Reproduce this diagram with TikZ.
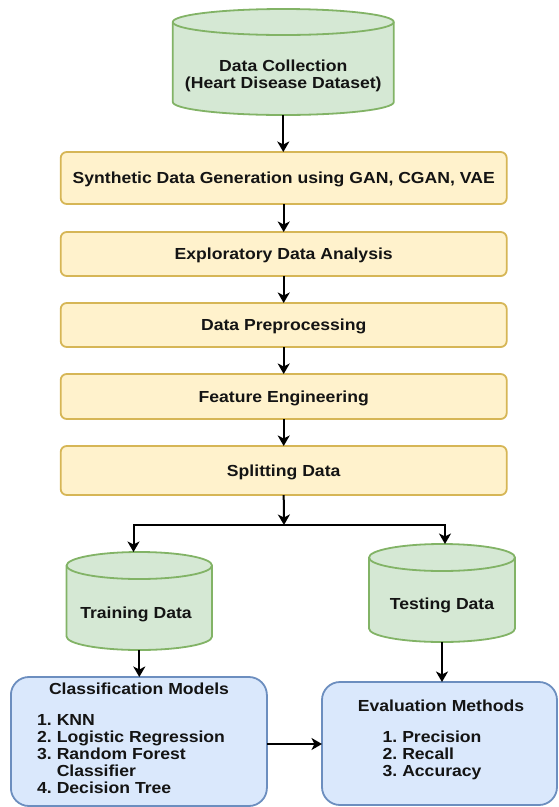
\documentclass[tikz,border=0pt]{standalone}
\usepackage{fontspec}
\newfontfamily\labfont{Liberation Sans}[FakeStretch=1.1]
\usetikzlibrary{arrows.meta,calc,backgrounds}
\definecolor{gfill}{HTML}{D5E8D4}
\definecolor{gline}{HTML}{82B366}
\definecolor{yfill}{HTML}{FFF2CC}
\definecolor{yline}{HTML}{D6B656}
\definecolor{bfill}{HTML}{DAE8FC}
\definecolor{bline}{HTML}{6C8EBF}
\definecolor{txt}{HTML}{141414}
\newcommand\labtext{\labfont\bfseries\fontsize{16}{17}\selectfont}
\newcommand\drawcyl[2]{%
 \begin{scope}[on background layer]
 \path[fill=gfill, draw=gline, line width=1.8pt] let \p1=(#1.north west), \p2=(#1.south east), \n1={(\x2-\x1)/2} in
   (\x1,\y1-#2) -- (\x1,\y2+#2) arc[start angle=180, end angle=360, x radius=\n1, y radius=#2]
   -- (\x2,\y1-#2) arc[start angle=0, end angle=180, x radius=\n1, y radius=#2] -- cycle;
 \draw[draw=gline, line width=1.8pt] let \p1=(#1.north west), \p2=(#1.south east), \n1={(\x2-\x1)/2} in
   (\x1,\y1-#2) arc[start angle=180, end angle=360, x radius=\n1, y radius=#2];
 \end{scope}}
\tikzset{
 x=1pt, y=-1pt,
 every node/.style={font=\labtext, text=txt},
 cylnode/.style={inner sep=0pt, outer sep=0pt, draw=none},
 stepbox/.style={draw=yline, fill=yfill, line width=1.8pt, rounded corners=6pt,
   minimum width=446pt, inner sep=0pt, outer sep=0pt, text height=11.5pt, text depth=0pt},
 bluebox/.style={draw=bline, fill=bfill, line width=1.8pt, rounded corners=18pt,
   inner sep=0pt, outer sep=0pt},
 arr/.style={line width=2pt, draw=black, -{Stealth[length=10.5pt, width=12pt, inset=3pt]}},
}
\begin{document}
\begin{tikzpicture}
\useasboundingbox (0,0) rectangle (558,807);

% top cylinder
\node[cylnode, minimum width=221pt, minimum height=106pt] (dc) at (283.3,62) {};
\drawcyl{dc}{13pt}
\node[anchor=base] (dct) at (283.3,71.5) {\begin{tabular}[t]{@{}c@{}}Data Collection\\(Heart Disease Dataset)\end{tabular}};

% process boxes
\node[stepbox, minimum height=52pt] (syn) at (283.7,178) {Synthetic Data Generation using GAN, CGAN, VAE};
\node[stepbox, minimum height=44pt] (eda) at (283.7,254) {Exploratory Data Analysis};
\node[stepbox, minimum height=44pt] (pre) at (283.7,325) {Data Preprocessing};
\node[stepbox, minimum height=45pt] (fe) at (283.7,396.5) {Feature Engineering};
\node[stepbox, minimum height=49pt] (spl) at (283.7,470.5) {Splitting Data};

% training / testing cylinders
\node[cylnode, minimum width=145.5pt, minimum height=98pt] (tr) at (139.3,601) {};
\drawcyl{tr}{13.5pt}
\node (trt) at (136,613) [text height=11.5pt, text depth=0pt, inner sep=0pt] {Training Data};
\node[cylnode, minimum width=146pt, minimum height=98pt] (te) at (442,593) {};
\drawcyl{te}{13.5pt}
\node (tet) at (442,604) [text height=11.5pt, text depth=0pt, inner sep=0pt] {Testing Data};

% bottom boxes
\node[bluebox, minimum width=256pt, minimum height=129pt] (cls) at (138.9,741.5) {};
\node[anchor=base] (clst) at (139,694) {Classification Models};
\node[anchor=base west, inner sep=0pt] (clsl) at (37,725) {\begin{tabular}[t]{@{}l@{\ }l@{}}1.&KNN\\2.&Logistic Regression\\3.&Random Forest\\&Classifier\\4.&Decision Tree\end{tabular}};

\node[bluebox, minimum width=235pt, minimum height=123pt] (ev) at (439.5,743.5) {};
\node[anchor=base] (evt) at (441,711) {Evaluation Methods};
\node[anchor=base west, inner sep=0pt] (evl) at (382.5,742) {\begin{tabular}[t]{@{}l@{\ }l@{}}1.&Precision\\2.&Recall\\3.&Accuracy\end{tabular}};

% connectors
\draw[arr] (dc.south) -- (dc.south |- syn.north);
\draw[arr] (syn.south) -- (eda.north);
\draw[arr] (eda.south) -- (pre.north);
\draw[arr] (pre.south) -- (fe.north);
\draw[arr] (fe.south) -- (spl.north);
\coordinate (j) at (284,525);
\draw[arr] (spl.south) -- (j);
\draw[arr] (j) -| ([xshift=-5.8pt]tr.north);
\draw[arr] (j) -| ([xshift=3pt]te.north);
\draw[arr] (tr.south) -- (tr.south |- cls.north);
\draw[arr] (te.south) -- (te.south |- ev.north);
\draw[arr] ([yshift=-2.5pt]cls.east) -- ([yshift=-2.5pt]cls.east -| ev.west);
\end{tikzpicture}
\end{document}
